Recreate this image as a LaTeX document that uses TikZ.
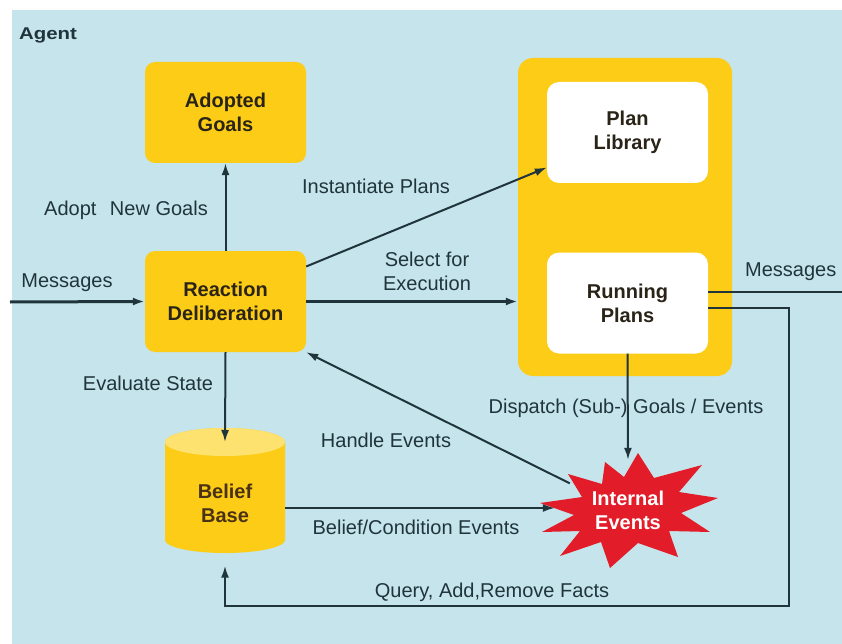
\documentclass[tikz,border=0pt]{standalone}
\usepackage{fontspec}
\setmainfont{Liberation Sans}
\usetikzlibrary{arrows.meta}

\definecolor{bg}{RGB}{198,228,236}
\definecolor{gold}{RGB}{252,204,22}
\definecolor{goldlight}{RGB}{253,226,112}
\definecolor{ink}{RGB}{32,52,60}
\definecolor{boxtext}{RGB}{42,36,24}
\definecolor{burst}{RGB}{226,28,40}

\begin{document}
\begin{tikzpicture}[x=1pt,y=-1pt,
  lbl/.style={font=\fontsize{20}{24}\selectfont, text=ink, inner sep=0pt, align=center},
  goalbox/.style={fill=gold, rounded corners=10pt, minimum width=161pt, minimum height=101pt,
                  font=\bfseries\fontsize{20}{24}\selectfont, text=boxtext, align=center, inner sep=0pt},
  planbox/.style={fill=white, rounded corners=12pt, minimum width=161pt, minimum height=101pt,
                  font=\bfseries\fontsize{20}{24}\selectfont, text=boxtext, align=center, inner sep=0pt},
  holder/.style={fill=gold, rounded corners=15pt, minimum width=214pt, minimum height=318pt, inner sep=0pt},
  link/.style={draw=ink, line width=2pt, -{Latex[length=12pt,width=8pt]}},
  heavy/.style={link, line width=3pt},
  plain/.style={draw=ink, line width=2pt}]

\useasboundingbox (0,0) rectangle (842,644);
\fill[white] (0,0) rectangle (842,644);
\fill[bg] (12,10) rectangle (842,644);

% agent frame title
\node[font=\bfseries\fontsize{17}{20}\selectfont, text=ink, inner sep=0pt] (agent) at (48,35) {\scalebox{1.2}[1]{Agent}};

% goal handling boxes
\node[goalbox] (goals) at (225.5,112.5) {Adopted\\Goals};
\node[goalbox] (react) at (225.5,301.5) {Reaction\\Deliberation};

% plan container with library and running plans
\node[holder] (plans) at (625,217) {};
\node[planbox] (library) at (627.5,132.5) {Plan\\Library};
\node[planbox] (running) at (627.5,303) {Running\\Plans};

% belief base cylinder
\fill[gold] (165,442) -- (165,540) arc (180:0:60 and 13) -- (285,442) arc (0:-180:60 and 14) -- cycle;
\fill[goldlight] (225,442) ellipse (60 and 14);
\node[minimum width=120pt, minimum height=125pt, inner sep=0pt,
      font=\bfseries\fontsize{20}{24}\selectfont, text=boxtext!85!orange, align=center] (belief) at (225,503) {Belief\\Base};
\coordinate (btop) at (225,442);

% internal events burst
\fill[burst] (638,453) -- (654,478) -- (702,465) -- (679,492) -- (718,498) -- (681,513)
  -- (710,532) -- (669,531) -- (678,557) -- (638,543) -- (610,568) -- (601,542)
  -- (560,556) -- (580,531) -- (542,532) -- (574,515) -- (540,503) -- (582,497)
  -- (568,474) -- (602,484) -- (605,462) -- (624,477) -- cycle;
\node[minimum width=146pt, minimum height=100pt, inner sep=0pt,
      font=\bfseries\fontsize{20}{24}\selectfont, text=white, align=center] (events) at (628,510) {Internal\\Events};

% connectors
\coordinate (msgin) at (10,302);
\coordinate (msgout) at (842,292);
\coordinate (loopR) at (789,606);

\draw[heavy] (msgin) -- (react.west);
\draw[link] (react.north) -- (goals.south);
\draw[link] ([yshift=35pt]react.east) -- ([yshift=-35pt]library.west);
\draw[heavy] (react.east) -- (react.east -| plans.west);
\draw[plain] ([yshift=11pt]running.east) -- (msgout);
\draw[link] ([yshift=-5pt]running.east) -| (loopR) -| (belief.south);
\draw[link] (react.south) -- (btop);
\draw[link] ([yshift=-5pt]belief.east) -- ([yshift=-5pt]belief.east -| events.west);
\draw[link] ([xshift=15pt]events.160) -- (react.south east);
\draw[link] (running.south) -- (events.north);

% connector labels
\node[lbl] (lmsgin) at (67,283) {Messages};
\node[lbl] (ladopt) at (126,210) {Adopt\hspace{8pt} New Goals};
\node[lbl] (linst) at (376,186) {Instantiate Plans};
\node[lbl] (lsel) at (427,271) {Select for\\Execution};
\node[lbl, anchor=west] (lmsgout) at (745,272) {Messages};
\node[lbl] (leval) at (148,383) {Evaluate State};
\node[lbl] (lhandle) at (386,440) {Handle Events};
\node[lbl] (ldisp) at (626,408) {Dispatch (Sub-) Goals / Events};
\node[lbl] (lcond) at (416,527) {Belief/Condition Events};
\node[lbl] (lfacts) at (492,592) {Query, Add,Remove Facts};
\end{tikzpicture}
\end{document}
